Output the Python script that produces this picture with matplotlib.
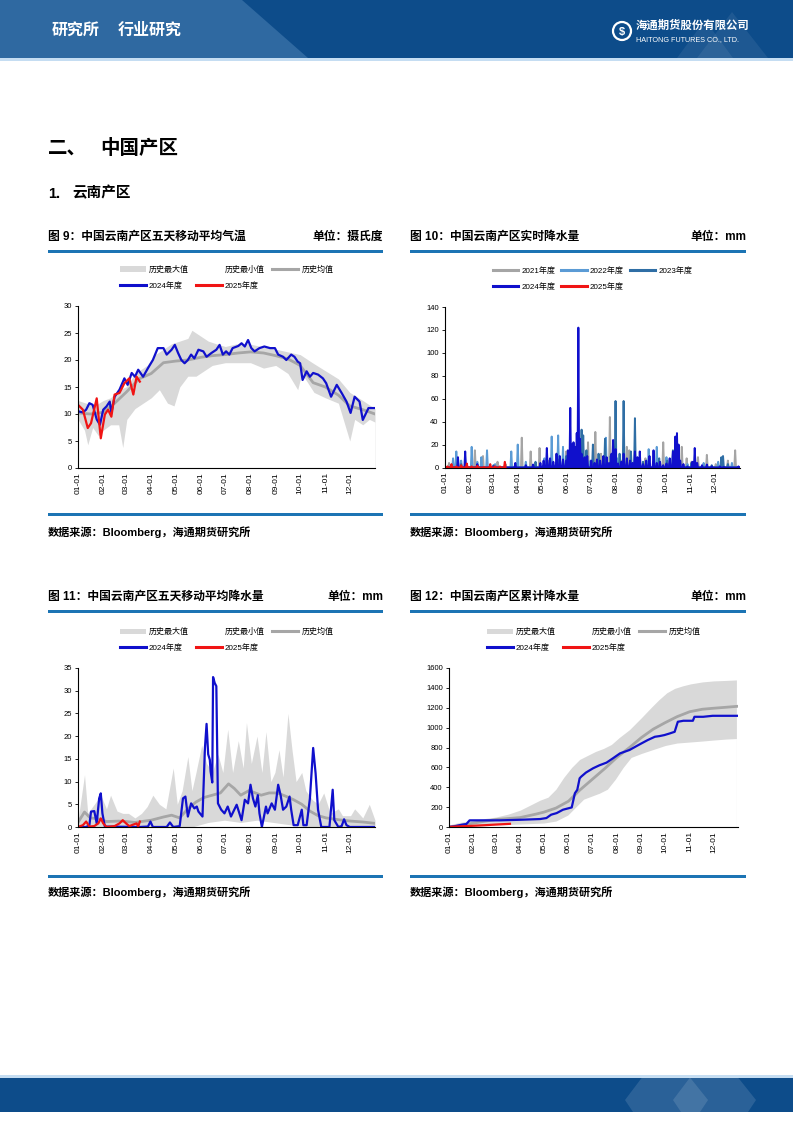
import numpy as np
import matplotlib
matplotlib.use("Agg")
import matplotlib.pyplot as plt
from matplotlib.patches import Rectangle, Polygon, Patch, Circle
from matplotlib.lines import Line2D

plt.rcParams['font.family'] = ['Liberation Sans', 'Noto Sans CJK SC']
plt.rcParams['axes.unicode_minus'] = False

W, H = 793, 1122

# 月份刻度
month_days = [0, 31, 59, 90, 120, 151, 181, 212, 243, 273, 304, 334]
month_labels = ['01-01', '02-01', '03-01', '04-01', '05-01', '06-01',
                '07-01', '08-01', '09-01', '10-01', '11-01', '12-01']

# ---------------- 图9 气温 ----------------
t24_days = [0, 6, 10, 14, 18, 23, 27, 31, 35, 39, 41, 45, 51, 57, 61, 66, 70, 74, 80, 86,
            92, 98, 105, 109, 115, 119, 123, 127, 131, 135, 139, 143, 148, 154, 158, 164,
            170, 174, 178, 182, 186, 190, 197, 201, 205, 209, 213, 217, 223, 229, 236, 242,
            246, 252, 256, 262, 266, 270, 273, 276, 281, 285, 289, 295, 301, 305, 311, 318,
            324, 330, 335, 340, 346, 350, 357, 365]
t24_vals = [10.5, 10.3, 10.8, 12.0, 11.7, 9.0, 8.0, 10.8, 11.4, 12.3, 10.2, 13.2, 14.5, 16.6,
            15.4, 17.6, 16.9, 18.2, 16.9, 18.5, 20.0, 22.2, 22.2, 21.0, 21.9, 22.8, 21.3, 20.0,
            19.4, 20.0, 21.0, 20.3, 21.9, 21.6, 20.6, 21.3, 21.9, 22.8, 21.0, 21.6, 21.0, 22.2,
            22.6, 23.1, 22.5, 23.7, 22.2, 21.6, 22.2, 22.5, 22.2, 22.2, 21.0, 20.6, 20.0, 21.0,
            20.6, 19.7, 19.4, 16.3, 17.9, 16.9, 17.6, 17.3, 16.6, 15.7, 13.2, 15.4, 13.9, 12.3,
            10.2, 13.2, 12.3, 8.9, 11.1, 11.1]
t25_days = [0, 6, 12, 16, 23, 28, 33, 37, 41, 45, 51, 57, 63, 68, 72, 76]
t25_vals = [11.7, 10.8, 7.4, 8.3, 12.9, 5.5, 9.9, 10.8, 9.5, 13.6, 13.9, 15.7, 16.6, 13.6, 16.9, 16.0]
tavg_days = [0, 15, 31, 45, 59, 75, 90, 105, 120, 135, 151, 165, 181, 197, 212, 228, 243,
             258, 273, 289, 304, 320, 334, 350, 365]
tavg_vals = [10.2, 10.0, 10.3, 12.0, 14.0, 16.5, 17.5, 19.5, 19.8, 20.0, 20.5, 20.8, 21.0,
             21.3, 21.5, 21.3, 20.8, 20.2, 19.0, 15.8, 15.0, 13.5, 11.5, 10.8, 10.0]
tmax_days = [0, 10, 20, 31, 40, 50, 59, 68, 75, 85, 95, 105, 115, 125, 135, 140, 150, 160,
             170, 181, 195, 210, 225, 243, 258, 273, 288, 304, 320, 334, 350, 365]
tmax_vals = [12.5, 12.0, 11.5, 12.5, 13.0, 14.5, 15.0, 17.0, 18.0, 19.0, 21.0, 22.0, 23.0,
             23.5, 24.0, 25.5, 24.5, 23.5, 23.0, 22.5, 23.0, 23.0, 22.5, 22.0, 21.5, 21.0,
             19.5, 18.0, 16.5, 14.0, 12.5, 11.0]
tmin_days = [0, 8, 12, 18, 25, 31, 40, 50, 55, 60, 70, 80, 90, 100, 110, 118, 125, 135, 145,
             155, 165, 181, 200, 212, 228, 243, 258, 270, 275, 290, 304, 320, 334, 340, 350,
             358, 365]
tmin_vals = [9.0, 7.0, 4.3, 7.5, 6.0, 7.0, 8.0, 8.0, 3.8, 9.0, 11.0, 12.0, 13.0, 14.5, 12.0,
             11.5, 15.0, 17.0, 17.0, 18.0, 19.0, 19.5, 19.5, 19.5, 18.5, 19.0, 17.5, 14.5,
             17.5, 14.0, 13.0, 12.0, 5.0, 9.0, 8.0, 9.0, 8.5]

# ---------------- 图10 实时降水 ----------------
r21_days = [5, 37, 47, 65, 75, 95, 106, 117, 128, 138, 150, 160, 168, 177, 186, 193, 204,
            218, 225, 228, 248, 270, 278, 293, 299, 305, 313, 324, 335, 350, 359]
r21_vals = [4, 15, 10, 5, 3, 26, 14, 17, 6, 12, 14, 10, 7, 22, 31, 12, 44, 6, 18, 15, 8, 22,
            4, 18, 8, 5, 9, 11, 3, 6, 15]
r22_days = [10, 14, 20, 33, 40, 45, 52, 62, 82, 90, 100, 123, 132, 140, 146, 155, 180, 199,
            213, 240, 252, 262, 274, 285, 300, 320, 338, 355]
r22_vals = [8, 14, 6, 18, 5, 9, 15, 3, 14, 20, 5, 8, 27, 28, 18, 10, 6, 26, 8, 7, 16, 18, 9,
            5, 3, 4, 5, 4]
r23_days = [20, 60, 112, 140, 150, 158, 166, 169, 171, 175, 183, 190, 198, 205, 211, 216,
            221, 230, 235, 240, 245, 265, 275, 282, 290, 305, 330, 342, 344, 350]
r23_vals = [3, 2, 5, 7, 10, 20, 12, 33, 28, 15, 20, 12, 25, 10, 58, 12, 58, 14, 43, 8, 5, 8,
            6, 15, 5, 4, 2, 9, 10, 3]
r24_days = [16, 25, 40, 60, 87, 100, 109, 118, 122, 126, 130, 134, 138, 142, 146, 150, 152,
            155, 157, 159, 161, 163, 165, 167, 169, 171, 173, 176, 181, 185, 188, 192, 196,
            200, 203, 206, 208, 211, 214, 218, 221, 225, 229, 232, 235, 238, 241, 245, 249,
            253, 258, 262, 266, 270, 274, 278, 282, 285, 287, 289, 291, 295, 300, 306, 309,
            312, 318, 324, 330, 340, 345, 363]
r24_vals = [9, 14, 3, 1, 4, 2, 2.6, 4, 6, 17, 8, 5, 12, 10, 7, 6, 15, 52, 20, 22, 18, 30, 122,
            25, 12, 8, 9, 10, 6, 4, 7, 6, 10, 9, 4, 12, 24, 16, 3.5, 5, 12, 8, 6, 4, 14, 9, 14,
            3, 6, 10, 15, 4, 5, 2, 3.5, 8, 14, 27, 30, 20, 6, 3, 1, 5, 17, 4, 2, 2.6, 1, 1,
            0.5, 1]
r25_days = [3, 8, 14, 20, 27, 33, 40, 48, 56, 62, 68, 74]
r25_vals = [1, 3, 1, 2, 3.5, 1, 1.5, 0.5, 3, 1, 1, 5]

# ---------------- 图11 五日均降水 ----------------
p24_days = [0, 10, 14, 16, 20, 23, 26, 28, 30, 33, 76, 86, 89, 92, 109, 113, 117, 125, 129,
            132, 135, 139, 143, 146, 148, 153, 156, 158, 160, 162, 163, 165, 166, 168, 170,
            172, 176, 180, 184, 188, 195, 201, 205, 209, 212, 215, 218, 221, 223, 226, 231,
            233, 238, 242, 246, 249, 252, 256, 260, 262, 265, 270, 275, 277, 281, 285, 289,
            292, 295, 299, 309, 313, 315, 320, 324, 327, 330, 334, 365]
p24_vals = [0, 0, 0.4, 3.4, 3.5, 0.8, 6.3, 7.4, 3.0, 0.1, 0, 0.1, 1.2, 0, 0, 1.0, 0, 0.2, 6.3,
            6.7, 2.3, 5.2, 4.1, 4.5, 3.4, 2.3, 17.4, 22.7, 16.0, 14.8, 12.2, 9.8, 33.0, 31.7,
            31.0, 5.2, 3.8, 3.0, 4.5, 2.3, 4.9, 1.5, 6.0, 5.2, 9.3, 6.3, 4.5, 7.0, 3.0, 0,
            4.5, 3.0, 5.2, 3.8, 9.3, 7.0, 3.8, 4.5, 6.7, 3.8, 0.4, 0.4, 3.8, 0.4, 0.4, 6.3,
            17.4, 11.8, 3.8, 0, 0, 8.2, 1.5, 0, 0.2, 1.7, 0.4, 0, 0]
p25_days = [0, 6, 10, 14, 20, 25, 28, 31, 35, 45, 51, 55, 59, 63, 72, 74, 76]
p25_vals = [0, 0.4, 1.2, 0.1, 0.2, 0.8, 1.9, 0.8, 0, 0.2, 0.8, 1.5, 0.8, 0.2, 0.8, 0.1, 1.2]
pavg_days = [0, 8, 15, 25, 35, 50, 59, 70, 90, 105, 115, 125, 135, 145, 155, 165, 175, 185,
             192, 200, 210, 218, 225, 235, 245, 255, 265, 275, 285, 295, 305, 320, 335, 350, 365]
pavg_vals = [1.0, 3.3, 2.0, 1.8, 1.2, 1.3, 1.2, 1.0, 1.5, 2.2, 2.6, 2.0, 4.0, 5.5, 6.5, 7.0,
             7.5, 9.5, 8.5, 7.0, 8.0, 7.5, 7.0, 7.5, 7.5, 6.8, 6.0, 5.0, 3.5, 2.5, 2.0, 1.6,
             1.3, 1.1, 0.8]
pmax_days = [0, 8, 12, 20, 28, 35, 40, 48, 55, 62, 70, 78, 85, 92, 100, 108, 117, 122, 128,
             135, 140, 145, 152, 158, 165, 172, 178, 184, 190, 197, 203, 207, 213, 220, 226,
             231, 237, 242, 247, 252, 258, 263, 268, 275, 280, 288, 295, 302, 310, 320, 325,
             335, 340, 350, 358, 365]
pmax_vals = [1.5, 11.5, 3, 5, 7, 4, 7, 3.5, 3, 3, 2, 3, 4.5, 7, 5, 4, 13, 5, 8, 15.5, 8, 12,
             18, 14, 12, 16, 12, 21.5, 12, 19, 13, 23, 14, 20, 12, 21, 10, 12, 17, 11, 25, 17,
             10, 12, 8, 6, 5, 7.5, 3, 4, 2.5, 2.5, 4, 2, 5, 1.5]
pmin_days = [0, 140, 160, 180, 200, 220, 240, 260, 280, 365]
pmin_vals = [0, 0, 1.0, 1.5, 1.0, 1.5, 1.0, 0.5, 0, 0]

# ---------------- 图12 累计降水 ----------------
c24_days = [0, 7, 16, 22, 26, 64, 91, 115, 123, 129, 136, 144, 155, 159, 162, 165, 167, 173,
            182, 190, 199, 207, 216, 222, 228, 237, 243, 251, 260, 266, 272, 279, 285, 289,
            296, 308, 310, 321, 333, 365]
c24_vals = [0, 7, 23, 30, 67, 67, 73, 80, 90, 124, 140, 174, 197, 340, 374, 490, 507, 548,
            591, 621, 648, 691, 741, 758, 775, 815, 841, 875, 908, 915, 925, 942, 958, 1059,
            1069, 1069, 1109, 1109, 1119, 1119]
c25_days = [0, 10, 25, 45, 60, 77]
c25_vals = [0, 5, 10, 18, 25, 32]
cavg_days = [0, 15, 31, 59, 90, 110, 120, 135, 151, 165, 181, 197, 212, 228, 243, 258, 273,
             288, 304, 320, 334, 350, 365]
cavg_vals = [0, 15, 40, 75, 95, 130, 150, 190, 260, 370, 480, 590, 700, 800, 900, 985, 1050,
             1110, 1160, 1185, 1195, 1205, 1215]
cmax_days = [0, 10, 20, 31, 45, 59, 75, 90, 105, 115, 125, 135, 145, 155, 165, 175, 185, 195,
             205, 215, 228, 243, 255, 265, 275, 285, 295, 305, 320, 334, 350, 363]
cmax_vals = [20, 40, 55, 70, 85, 100, 130, 170, 230, 270, 300, 380, 500, 600, 680, 720, 760,
             790, 830, 900, 980, 1100, 1200, 1280, 1350, 1395, 1420, 1440, 1460, 1470, 1475, 1480]
cmin_days = [0, 31, 59, 90, 105, 120, 135, 150, 160, 170, 180, 190, 200, 210, 220, 230, 243,
             258, 273, 288, 304, 320, 334, 350, 363]
cmin_vals = [0, 10, 20, 30, 35, 40, 60, 120, 200, 280, 310, 340, 380, 480, 600, 700, 740, 780,
             820, 845, 855, 865, 875, 885, 890]

# 颜色
c_fill = '#D9D9D9'
c_avg = '#A6A6A6'
c_24 = '#1010CC'
c_25 = '#F01414'
c_21 = '#A5A5A5'
c_22 = '#5B9BD5'
c_23 = '#2F6EA5'
c_bar = '#1C74B4'
c_head = '#0D4C8A'


def spikes(days, vals, end):
    s = np.zeros(end + 1)
    s[days] = vals
    return np.arange(end + 1), s


fig = plt.figure(figsize=(W / 100, H / 100), dpi=100)

# 背景层（像素坐标）
bg = fig.add_axes([0, 0, 1, 1])
bg.set_xlim(0, W)
bg.set_ylim(H, 0)
bg.axis('off')

# 页眉
bg.add_patch(Rectangle((0, 0), W, 58, color=c_head, lw=0))
bg.add_patch(Polygon([(0, 0), (242, 0), (308, 58), (0, 58)], color='#2F69A1', lw=0))
bg.add_patch(Polygon([(677, 58), (705, 20), (733, 58)], color='white', alpha=0.07, lw=0))
bg.add_patch(Polygon([(697, 58), (732, 12), (768, 58)], color='white', alpha=0.07, lw=0))
bg.add_patch(Rectangle((0, 58), W, 2.5, color='#C5DDF2', lw=0))
bg.text(52, 35, '研究所', color='white', fontsize=11.5, fontweight='bold', va='baseline')
bg.text(118, 35, '行业研究', color='white', fontsize=11.5, fontweight='bold', va='baseline')
bg.add_patch(Circle((622, 31), 9, fill=False, ec='white', lw=1.6))
bg.text(622, 31.5, '$', color='white', fontsize=8, ha='center', va='center', fontweight='bold')
bg.text(636, 29, '海通期货股份有限公司', color='white', fontsize=8.2, fontweight='bold', va='baseline')
bg.text(636, 41, 'HAITONG FUTURES CO., LTD.', color='white', fontsize=5.2, va='baseline')

# 页脚
bg.add_patch(Rectangle((0, 1075), W, 2.5, color='#C5DDF2', lw=0))
bg.add_patch(Rectangle((0, 1077.5), W, 34.5, color=c_head, lw=0))
bg.add_patch(Polygon([(625, 1100), (642, 1077.5), (690, 1077.5), (708, 1100), (700, 1112), (633, 1112)],
                     color='white', alpha=0.12, lw=0))
bg.add_patch(Polygon([(673, 1100), (690, 1077.5), (738, 1077.5), (756, 1100), (748, 1112), (681, 1112)],
                     color='white', alpha=0.12, lw=0))

# 章节标题
bg.text(48, 154, '二、', fontsize=14, fontweight='bold', va='baseline')
bg.text(100, 154, '中国产区', fontsize=14, fontweight='bold', va='baseline')
bg.text(48, 197.5, '1.', fontsize=10.5, fontweight='bold', va='baseline')
bg.text(72, 197.5, '云南产区', fontsize=10.5, fontweight='bold', va='baseline')

src = '数据来源：Bloomberg，海通期货研究所'


def panel(x0, x1, yt, ybar, ybot, ysrc, title, unit):
    bg.text(x0, yt + 4.5, title, fontsize=8.5, fontweight='bold', va='baseline', ha='left')
    bg.text(x1, yt + 4.5, unit, fontsize=8.5, fontweight='bold', va='baseline', ha='right')
    bg.add_patch(Rectangle((x0, ybar - 1.5), x1 - x0, 3, color=c_bar, lw=0))
    bg.add_patch(Rectangle((x0, ybot - 1.5), x1 - x0, 3, color=c_bar, lw=0))
    bg.text(x0, ysrc + 4, src, fontsize=8, fontweight='bold', va='baseline', ha='left')


panel(48, 383, 235, 251, 514, 532, '图 9：中国云南产区五天移动平均气温', '单位：摄氏度')
panel(410, 746, 235, 251, 514, 532, '图 10：中国云南产区实时降水量', '单位：mm')
panel(48, 383, 595, 611, 876, 892, '图 11：中国云南产区五天移动平均降水量', '单位：mm')
panel(410, 746, 595, 611, 876, 892, '图 12：中国云南产区累计降水量', '单位：mm')


def make_ax(left, right, top, bottom, ymax, ystep):
    ax = fig.add_axes([left / W, 1 - bottom / H, (right - left) / W, (bottom - top) / H])
    ax.set_facecolor('none')
    ax.set_xlim(0, 365)
    ax.set_ylim(0, ymax)
    ax.set_yticks(np.arange(0, ymax + 1, ystep))
    ax.set_xticks(month_days)
    ax.set_xticklabels(month_labels, rotation=90, fontsize=6, va='top')
    ax.tick_params(axis='y', labelsize=5.5, length=2.5, width=0.6, pad=2)
    ax.tick_params(axis='x', length=0, pad=3)
    for s in ['top', 'right']:
        ax.spines[s].set_visible(False)
    for s in ['left', 'bottom']:
        ax.spines[s].set_linewidth(0.8)
    return ax


def hist_legend(ax):
    h = [Patch(fc=c_fill, ec='none'), Line2D([], [], color=c_24, lw=2.2),
         Patch(fc='white', ec='none'), Line2D([], [], color=c_25, lw=2.2),
         Line2D([], [], color=c_avg, lw=2.2)]
    lab = ['历史最大值', '2024年度', '历史最小值', '2025年度', '历史均值']
    ax.legend(h, lab, ncol=3, loc='lower center', bbox_to_anchor=(0.5, 1.1), frameon=False,
              fontsize=5.8, handlelength=3.2, handleheight=0.6, handletextpad=0.4,
              columnspacing=0.9, labelspacing=1.0, borderpad=0, borderaxespad=0)


# 图9
ax9 = make_ax(78, 375, 306, 468, 30, 5)
ax9.fill_between(tmax_days, 0, tmax_vals, color=c_fill, lw=0)
ax9.fill_between(tmin_days, 0, tmin_vals, color='white', lw=0)
ax9.plot(tavg_days, tavg_vals, color=c_avg, lw=2)
ax9.plot(t24_days, t24_vals, color=c_24, lw=1.6)
ax9.plot(t25_days, t25_vals, color=c_25, lw=1.6)
hist_legend(ax9)

# 图10
ax10 = make_ax(445, 740, 307, 467.5, 140, 20)
for d, v, c in [(r21_days, r21_vals, c_21), (r22_days, r22_vals, c_22),
                (r23_days, r23_vals, c_23), (r24_days, r24_vals, c_24)]:
    x, y = spikes(d, v, 365)
    ax10.plot(x, y, color=c, lw=1.4)
x, y = spikes(r25_days, r25_vals, 75)
ax10.plot(x, y, color=c_25, lw=1.4)
h = [Line2D([], [], color=c_21, lw=2.2), Line2D([], [], color=c_24, lw=2.2),
     Line2D([], [], color=c_22, lw=2.2), Line2D([], [], color=c_25, lw=2.2),
     Line2D([], [], color=c_23, lw=2.2)]
lab = ['2021年度', '2024年度', '2022年度', '2025年度', '2023年度']
ax10.legend(h, lab, ncol=3, loc='lower center', bbox_to_anchor=(0.5, 1.1), frameon=False,
            fontsize=5.8, handlelength=3.2, handletextpad=0.4, columnspacing=0.7,
            labelspacing=1.0, borderpad=0, borderaxespad=0)

# 图11
ax11 = make_ax(78, 375, 668, 827, 35, 5)
ax11.fill_between(pmax_days, 0, pmax_vals, color=c_fill, lw=0)
ax11.fill_between(pmin_days, 0, pmin_vals, color='white', lw=0)
ax11.plot(pavg_days, pavg_vals, color=c_avg, lw=2)
ax11.plot(p24_days, p24_vals, color=c_24, lw=1.6)
ax11.plot(p25_days, p25_vals, color=c_25, lw=1.6)
hist_legend(ax11)

# 图12
ax12 = make_ax(449, 738, 668, 827, 1600, 200)
ax12.fill_between(cmax_days, 0, cmax_vals, color=c_fill, lw=0)
ax12.fill_between(cmin_days, 0, cmin_vals, color='white', lw=0)
ax12.plot(cavg_days, cavg_vals, color=c_avg, lw=2)
ax12.plot(c24_days, c24_vals, color=c_24, lw=1.6)
ax12.plot(c25_days, c25_vals, color=c_25, lw=1.6)
hist_legend(ax12)

fig.savefig('out.png', dpi=100)
